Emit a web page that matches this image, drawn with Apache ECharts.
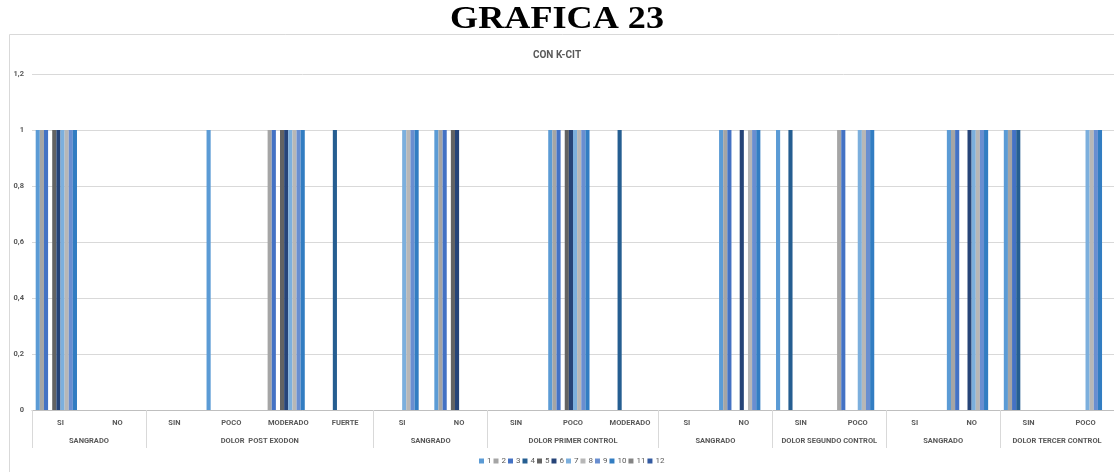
<!DOCTYPE html>
<html>
<head>
<meta charset="utf-8">
<script src="https://cdn.jsdelivr.net/npm/echarts@6/dist/echarts.min.js"></script>
<style>
  html, body { margin: 0; padding: 0; background: #fff; }
  #chart { width: 1114px; height: 472px; }
</style>
</head>
<body>
<div id="chart"></div>
<script>
  // categorias (primer nivel) y grupos (segundo nivel)
  const categories = ['SI', 'NO', 'SIN', 'POCO', 'MODERADO', 'FUERTE', 'SI', 'NO', 'SIN', 'POCO', 'MODERADO',
    'SI', 'NO', 'SIN', 'POCO', 'SI', 'NO', 'SIN', 'POCO'];
  const groupNames = ['SANGRADO', 'DOLOR  POST EXODON', 'SANGRADO', 'DOLOR PRIMER CONTROL', 'SANGRADO',
    'DOLOR SEGUNDO CONTROL', 'SANGRADO', 'DOLOR TERCER CONTROL'];
  const groupSizes = [2, 4, 2, 3, 2, 2, 2, 2];
  const yTicks = [0, 0.2, 0.4, 0.6, 0.8, 1, 1.2];

  const seriesNames = ['1', '2', '3', '4', '5', '6', '7', '8', '9', '10', '11', '12'];
  const s1  = [1, 0, 0, 1, 0, 0, 0, 1, 0, 1, 0, 0, 1, 1, 0, 0, 1, 1, 0];
  const s2  = [1, 0, 0, 0, 1, 0, 0, 1, 0, 1, 0, 0, 1, 0, 1, 0, 1, 1, 0];
  const s3  = [1, 0, 0, 0, 1, 0, 0, 1, 0, 1, 0, 0, 1, 0, 1, 0, 1, 1, 0];
  const s4  = [0, 0, 0, 0, 0, 1, 0, 0, 0, 0, 1, 0, 0, 1, 0, 0, 0, 1, 0];
  const s5  = [1, 0, 0, 0, 1, 0, 0, 1, 0, 1, 0, 0, 0, 0, 0, 0, 0, 0, 0];
  const s6  = [1, 0, 0, 0, 1, 0, 0, 1, 0, 1, 0, 0, 1, 0, 0, 0, 1, 0, 0];
  const s7  = [1, 0, 0, 0, 1, 0, 1, 0, 0, 1, 0, 0, 0, 0, 1, 0, 1, 0, 1];
  const s8  = [1, 0, 0, 0, 1, 0, 1, 0, 0, 1, 0, 0, 1, 0, 1, 0, 1, 0, 1];
  const s9  = [1, 0, 0, 0, 1, 0, 1, 0, 0, 1, 0, 0, 1, 0, 1, 0, 1, 0, 1];
  const s10 = [1, 0, 0, 0, 1, 0, 1, 0, 0, 1, 0, 0, 1, 0, 1, 0, 1, 0, 1];
  const s11 = [0, 0, 0, 0, 0, 0, 0, 0, 0, 0, 0, 0, 0, 0, 0, 0, 0, 0, 0];
  const s12 = [0, 0, 0, 0, 0, 0, 0, 0, 0, 0, 0, 0, 0, 0, 0, 0, 0, 0, 0];
  const seriesData = [s1, s2, s3, s4, s5, s6, s7, s8, s9, s10, s11, s12];

  const colors = ['#5B9BD5', '#A5A5A5', '#4472C4', '#255E91', '#636363', '#264478',
    '#7CAFDD', '#B7B7B7', '#698ED0', '#327DC2', '#848484', '#335AA1'];

  // limites y centros de los grupos en unidades de categoria
  let bounds = [0], centers = [], groupLabel = {};
  groupSizes.forEach(function (n, i) {
    let start = bounds[bounds.length - 1];
    let c = start + n / 2;
    centers.push(c);
    groupLabel[c] = groupNames[i];
    bounds.push(start + n);
  });

  const font = 'Roboto, "Liberation Sans", sans-serif';
  let myChart = echarts.init(document.getElementById('chart'));
  let option = {
    color: colors,
    animation: false,
    title: {
      text: 'CON K-CIT',
      left: 'center',
      top: 45,
      textStyle: { fontFamily: font, fontWeight: 'bold', fontSize: 10, color: '#595959' }
    },
    graphic: [
      {
        type: 'rect',
        shape: { x: 9.5, y: 34.5, width: 1200, height: 500 },
        style: { fill: 'none', stroke: '#D9D9D9', lineWidth: 1 },
        silent: true
      },
      {
        type: 'text',
        x: 557,
        y: 20,
        scaleX: 1.13,
        originX: 0,
        style: {
          text: 'GRAFICA 23',
          font: 'bold 32px "Liberation Serif", serif',
          fill: '#000',
          align: 'center',
          verticalAlign: 'middle'
        },
        silent: true
      }
    ],
    legend: {
      data: seriesNames,
      bottom: 2,
      left: 474,
      icon: 'rect',
      itemWidth: 5,
      itemHeight: 5,
      itemGap: 2,
      textStyle: { fontFamily: font, fontSize: 8, color: '#595959', padding: [0, 0, 0, -2] }
    },
    grid: { left: 32, right: -3, top: 74, bottom: 62 },
    xAxis: [
      {
        type: 'category',
        data: categories,
        axisLine: { lineStyle: { color: '#BFBFBF' } },
        axisTick: { show: false },
        axisLabel: { interval: 0, margin: 9, fontFamily: font, fontWeight: 'bold', fontSize: 7.5, color: '#595959' },
        splitLine: { show: false }
      },
      {
        type: 'value',
        position: 'bottom',
        min: 0,
        max: categories.length,
        axisLine: { show: false },
        axisTick: { show: true, customValues: bounds, length: 38, lineStyle: { color: '#D9D9D9' } },
        axisLabel: {
          customValues: centers,
          margin: 27,
          fontFamily: font, fontWeight: 'bold', fontSize: 7.5, color: '#595959',
          formatter: function (v) { return groupLabel[v] || ''; }
        },
        splitLine: { show: false }
      }
    ],
    yAxis: {
      type: 'value',
      min: 0,
      max: 1.2,
      interval: 0.2,
      axisLine: { show: false },
      axisTick: { show: false },
      axisLabel: {
        margin: 8,
        customValues: yTicks,
        fontFamily: font, fontWeight: 'bold', fontSize: 7.5, color: '#595959',
        formatter: function (v) { return String(Math.round(v * 10) / 10).replace('.', ','); }
      },
      splitLine: { lineStyle: { color: '#D9D9D9' } }
    },
    series: seriesNames.map(function (name, i) {
      return {
        name: name,
        type: 'bar',
        xAxisIndex: 0,
        data: seriesData[i],
        barGap: '0%',
        barCategoryGap: '13%',
        itemStyle: { color: colors[i] }
      };
    })
  };
  window.onresize = myChart.resize;
  myChart.setOption(option);
</script>
</body>
</html>
